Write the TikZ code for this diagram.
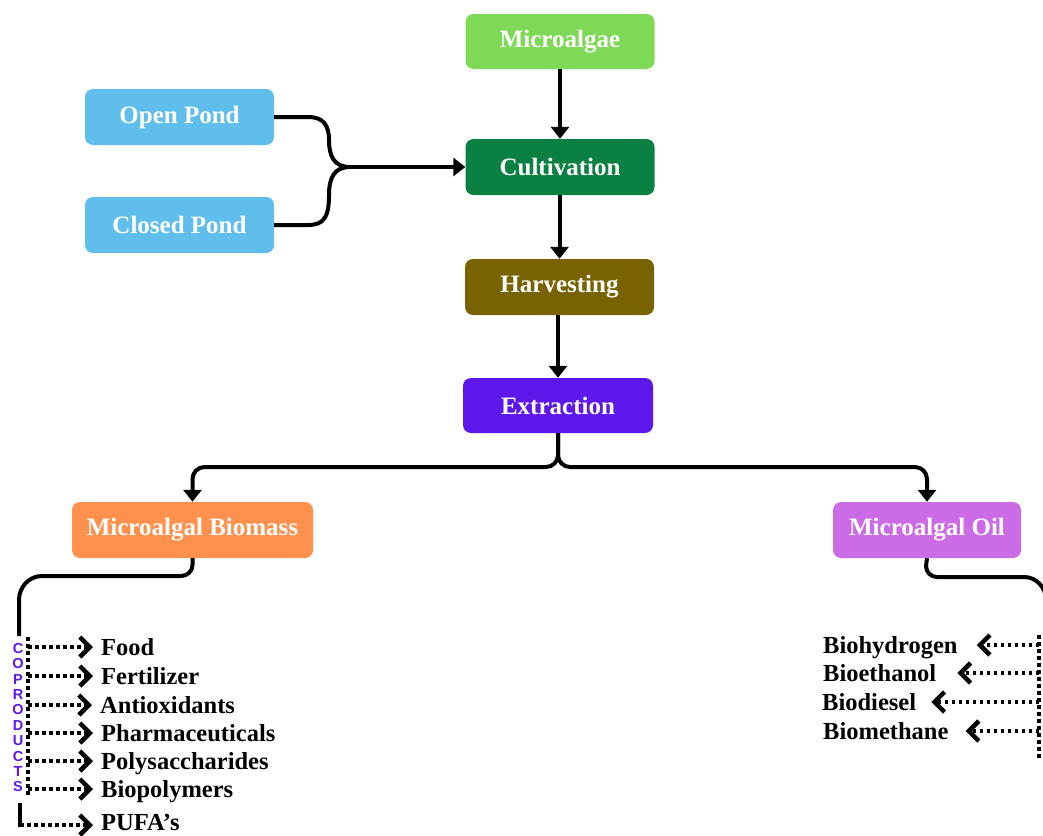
\documentclass[tikz,border=0pt]{standalone}
\usepackage{fontspec}
\setmainfont{Liberation Serif}
\setsansfont{Liberation Sans}
\usetikzlibrary{arrows.meta,calc}
\definecolor{cMa}{HTML}{7ED957}
\definecolor{cPond}{HTML}{5FBEEB}
\definecolor{cCult}{HTML}{0B8043}
\definecolor{cHarv}{HTML}{786300}
\definecolor{cExt}{HTML}{5E17EB}
\definecolor{cBio}{HTML}{FF914D}
\definecolor{cOil}{HTML}{CB6CE6}
\tikzset{
  box/.style={rounded corners=8pt, minimum height=55pt, text=white, inner sep=0pt,
    font=\fontsize{25}{28}\selectfont\bfseries},
  conn/.style={line width=4pt},
  arr/.style={conn, -{Triangle[width=18pt,length=12pt]}},
  dotline/.style={line width=3.8pt, dash pattern=on 3.5pt off 3.5pt},
  darr/.style={dotline, -{Straight Barb[length=10pt,width=20pt,line width=4.5pt]}},
  item/.style={inner sep=0pt, text height=18pt, text depth=2pt,
    font=\fontsize{24.5}{28}\selectfont\bfseries},
}
\begin{document}
\begin{tikzpicture}[x=1pt,y=-1pt]
\useasboundingbox (0,0) rectangle (1043,835);
% boxes
\node[box, fill=cMa, minimum width=189pt] (ma) at (560,41.5) {Microalgae};
\node[box, fill=cPond, minimum width=189pt, minimum height=56pt] (op) at (179.5,117) {Open Pond};
\node[box, fill=cPond, minimum width=189pt, minimum height=56pt] (cp) at (179.5,225) {Closed Pond};
\node[box, fill=cCult, minimum width=189pt, minimum height=56pt] (cult) at (560,167) {Cultivation};
\node[box, fill=cHarv, minimum width=189pt, minimum height=56pt] (harv) at (559.5,287) {Harvesting};
\node[box, fill=cExt, minimum width=190pt] (ext) at (558,405.5) {Extraction};
\node[box, fill=cBio, minimum width=241pt, minimum height=56pt] (bio) at (192.5,530) {Microalgal Biomass};
\node[box, fill=cOil, minimum width=188pt, minimum height=56pt] (oil) at (927,530) {Microalgal Oil};
% main chain
\draw[arr] (ma) -- (cult);
\draw[arr] (cult.south -| harv) -- (harv.north);
\draw[arr] (ext.north |- harv.south) -- (ext.north);
% merge from ponds
\coordinate (mg) at (350,167);
\draw[conn] (op.east) -- (308,117) .. controls (324,117) and (329,126) .. (329,140)
  .. controls (329,156) and (334,167) .. (mg);
\draw[conn] (cp.east) -- (308,225) .. controls (324,225) and (329,217) .. (329,195)
  .. controls (329,178) and (334,167) .. (mg);
\draw[arr] (mg) -- (cult.west);
% split from extraction
\draw[arr, rounded corners=12pt] (ext.south) -- (558,467) -- (bio.north |- 0,467) -- (bio.north);
\draw[arr, rounded corners=12pt] (ext.south) -- (558,467) -- (oil.north |- 0,467) -- (oil.north);
% biomass branch
\coordinate (le) at (19,636);
\draw[conn] (bio.south) -- (192.5,565) to[out=-90,in=0] (181,576) -- (42,576)
  to[out=180,in=90] (19,600) -- (le);
% oil branch
\coordinate (re) at (1046,640);
\draw[conn] (oil.south) -- (926,566) to[out=-90,in=180] (937,577) -- (1024,577)
  to[out=0,in=90] (1046,600) -- (re);
% coproducts label
\node[inner sep=0pt, align=center, text=cExt,
  font=\fontsize{14.5}{15.4}\selectfont\sffamily\bfseries] (cop) at (18,717.5)
  {C\\O\\P\\R\\O\\D\\U\\C\\T\\S};
% left items
\node[item, anchor=west] (i1) at (101,647) {Food};
\node[item, anchor=west] (i2) at (101,676) {Fertilizer};
\node[item, anchor=west] (i3) at (100,705) {Antioxidants};
\node[item, anchor=west] (i4) at (101,733) {Pharmaceuticals};
\node[item, anchor=west] (i5) at (101,761) {Polysaccharides};
\node[item, anchor=west] (i6) at (101,789) {Biopolymers};
\node[item, anchor=west] (i7) at (101,822) {PUFA’s};
\coordinate (lt) at (28,637);
\coordinate (lb) at (28,797);
\draw[dotline] (lt) -- (lb);
\foreach \n in {i1,i2,i3,i4,i5,i6}{
  \draw[darr] (lt |- \n.west) -- ([xshift=-8pt]\n.west);
}
\coordinate (ps) at (20,803);
\coordinate (pc) at (20,825);
\draw[line width=3.8pt] (ps) -- ([yshift=-1.9pt]pc);
\draw[darr] (pc) -- ([xshift=-8pt]pc -| i7.west);
% right items
\node[item, anchor=west] (r1) at (823,645) {Biohydrogen};
\node[item, anchor=west] (r2) at (823,673) {Bioethanol};
\node[item, anchor=west] (r3) at (822,702) {Biodiesel};
\node[item, anchor=west] (r4) at (823,731) {Biomethane};
\coordinate (rt) at (1039,635);
\coordinate (rb) at (1039,760);
\draw[dotline] (rt) -- (rb);
\draw[darr] (rt |- r1.east) -- ([xshift=19pt]r1.east);
\draw[darr] (rt |- r2.east) -- ([xshift=21pt]r2.east);
\draw[darr] (rt |- r3.east) -- ([xshift=15pt]r3.east);
\draw[darr] (rt |- r4.east) -- ([xshift=17pt]r4.east);
\end{tikzpicture}
\end{document}
